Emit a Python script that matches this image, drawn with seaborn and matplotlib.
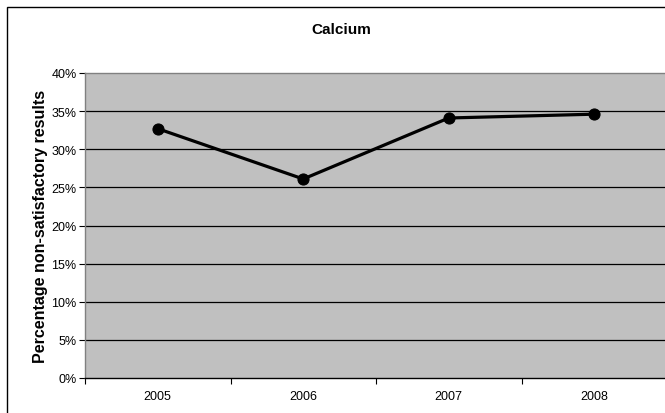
import pandas as pd
import seaborn as sns
import matplotlib.pyplot as plt
from matplotlib.patches import Rectangle
from matplotlib.ticker import PercentFormatter

# chart values
years = ['2005', '2006', '2007', '2008']
pct_non_satisfactory = [32.7, 26.1, 34.1, 34.6]
y_ticks = [0, 5, 10, 15, 20, 25, 30, 35, 40]

df = pd.DataFrame({'year': years, 'pct': pct_non_satisfactory})

sns.set_style('white')
plt.rcParams['font.family'] = ['Liberation Sans', 'DejaVu Sans']
plt.rcParams['text.color'] = 'black'
plt.rcParams['axes.labelcolor'] = 'black'
plt.rcParams['xtick.color'] = 'black'
plt.rcParams['ytick.color'] = 'black'

fig = plt.figure(figsize=(6.65, 4.14), dpi=100)
ax = fig.add_axes([85 / 665, 35 / 414, 582 / 665, 305 / 414])
ax.set_facecolor('#c0c0c0')

# outer chart border (Excel chart area)
fig.patches.append(Rectangle((7 / 665, -0.05), 1.2, (406 / 414) + 0.05,
                             transform=fig.transFigure, fill=False,
                             edgecolor='black', linewidth=1.0))

x = list(range(len(years)))
sns.lineplot(x=x, y=df['pct'], ax=ax, color='black', linewidth=2.3,
             marker='o', markersize=8, markeredgecolor='black')

ax.set_xlim(-0.5, 3.5)
ax.set_ylim(0, 40)
ax.set_yticks(y_ticks)
ax.yaxis.set_major_formatter(PercentFormatter(decimals=0))
ax.set_xticks(x)
ax.set_xticklabels(years)
ax.set_xticks([-0.5, 0.5, 1.5, 2.5, 3.5], minor=True)
ax.tick_params(axis='x', which='major', length=0, labelsize=9, pad=9)
ax.tick_params(axis='x', which='minor', length=4, width=0.8, color='black', direction='out', bottom=True)
ax.tick_params(axis='y', length=4, width=0.8, color='black', direction='out', left=True, labelsize=9, pad=2)

for yv in y_ticks[1:-1]:
    ax.axhline(yv, color='black', linewidth=0.9, zorder=1)

for s in ['top', 'left', 'right']:
    ax.spines[s].set_color('#808080')
    ax.spines[s].set_linewidth(1.0)
ax.spines['bottom'].set_color('black')
ax.spines['bottom'].set_linewidth(1.0)

ax.set_xlabel('')
ax.set_ylabel('Percentage non-satisfactory results', fontsize=11.5, fontweight='bold')
ax.yaxis.set_label_coords(-37 / 582, 0.5)
fig.text(341 / 665, 1 - 30 / 414, 'Calcium', ha='center', va='center', fontsize=11, fontweight='bold')

plt.savefig('out.png', dpi=100)
